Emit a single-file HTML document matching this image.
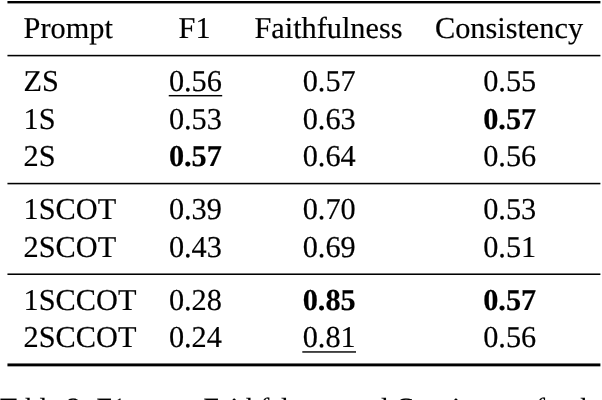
<!DOCTYPE html>
<html><head><meta charset="utf-8"><title>Table 2</title>
<style>
html,body{margin:0;padding:0;background:#fff;}
body{width:602px;height:400px;overflow:hidden;position:relative;font-family:"Liberation Serif",serif;color:#000;text-rendering:geometricPrecision;}
.t{position:absolute;white-space:nowrap;-webkit-text-stroke:0.18px #000;font-size:30.3px;line-height:30.3px;height:30.3px;}
.c{width:200px;text-align:center;}
.b{font-weight:bold;}
.cap{position:absolute;white-space:nowrap;}
#w{position:absolute;left:0;top:0;width:602px;height:400px;overflow:hidden;will-change:transform;filter:grayscale(1);}
svg{position:absolute;left:0;top:0;}
</style></head><body><div id="w">
<svg width="602" height="400" viewBox="0 0 602 400">
<rect x="7.45" y="1.00" width="592.95" height="2.40" fill="#000"/>
<rect x="7.45" y="54.82" width="592.95" height="1.55" fill="#000"/>
<rect x="7.45" y="182.80" width="592.95" height="1.55" fill="#000"/>
<rect x="7.45" y="273.45" width="592.95" height="1.55" fill="#000"/>
<rect x="7.45" y="363.45" width="592.95" height="2.90" fill="#000"/>
<rect x="168.75" y="94.97" width="53.45" height="1.43" fill="#000"/>
<rect x="302.30" y="351.15" width="53.70" height="1.60" fill="#1e1e1e"/>
</svg>
<div class="t" style="left:23.60px;top:13.00px">Prompt</div>
<div class="t c" style="left:94.60px;top:13.00px">F1</div>
<div class="t c" style="left:228.50px;top:13.00px">Faithfulness</div>
<div class="t c" style="left:409.00px;top:13.00px">Consistency</div>
<div class="t" style="left:23.60px;top:66.00px">ZS</div>
<div class="t c" style="left:95.40px;top:66.00px">0.56</div>
<div class="t c" style="left:229.20px;top:66.00px">0.57</div>
<div class="t c" style="left:409.70px;top:66.00px">0.55</div>
<div class="t" style="left:23.60px;top:104.00px">1S</div>
<div class="t c" style="left:95.40px;top:104.00px">0.53</div>
<div class="t c" style="left:229.20px;top:104.00px">0.63</div>
<div class="t b c" style="left:409.70px;top:104.00px">0.57</div>
<div class="t" style="left:23.60px;top:141.00px">2S</div>
<div class="t b c" style="left:95.40px;top:141.00px">0.57</div>
<div class="t c" style="left:229.20px;top:141.00px">0.64</div>
<div class="t c" style="left:409.70px;top:141.00px">0.56</div>
<div class="t" style="left:23.60px;top:194.00px">1SCOT</div>
<div class="t c" style="left:95.40px;top:194.00px">0.39</div>
<div class="t c" style="left:229.20px;top:194.00px">0.70</div>
<div class="t c" style="left:409.70px;top:194.00px">0.53</div>
<div class="t" style="left:23.60px;top:232.00px">2SCOT</div>
<div class="t c" style="left:95.40px;top:232.00px">0.43</div>
<div class="t c" style="left:229.20px;top:232.00px">0.69</div>
<div class="t c" style="left:409.70px;top:232.00px">0.51</div>
<div class="t" style="left:23.60px;top:285.00px">1SCCOT</div>
<div class="t c" style="left:95.40px;top:285.00px">0.28</div>
<div class="t b c" style="left:229.20px;top:285.00px">0.85</div>
<div class="t b c" style="left:409.70px;top:285.00px">0.57</div>
<div class="t" style="left:23.60px;top:322.00px">2SCCOT</div>
<div class="t c" style="left:95.40px;top:322.00px">0.24</div>
<div class="t c" style="left:229.20px;top:322.00px">0.81</div>
<div class="t c" style="left:409.70px;top:322.00px">0.56</div>
<div class="cap" style="left:0.00px;top:395.00px;font-size:27.78px;line-height:27.78px;-webkit-text-stroke:0.18px #000">T<span style="margin-left:-3.8px">able</span></div>
<div class="cap" style="left:67.00px;top:395.00px;font-size:27.78px;line-height:27.78px;-webkit-text-stroke:0.18px #000">2:</div>
<div class="cap" style="left:96.50px;top:395.00px;font-size:27.78px;line-height:27.78px;-webkit-text-stroke:0.18px #000">F1</div>
<div class="cap" style="left:133.00px;top:395.00px;font-size:27.78px;line-height:27.78px;-webkit-text-stroke:0.18px #000">score,</div>
<div class="cap" style="left:203.40px;top:395.00px;font-size:27.78px;line-height:27.78px;-webkit-text-stroke:0.18px #000">Fa<span style="margin-left:-0.6px">ithfu</span><span style="margin-left:-2px">lness</span></div>
<div class="cap" style="left:347.70px;top:395.00px;font-size:27.78px;line-height:27.78px;-webkit-text-stroke:0.18px #000">and</div>
<div class="cap" style="left:395.20px;top:395.00px;font-size:27.78px;line-height:27.78px;-webkit-text-stroke:0.18px #000">Consistency</div>
<div class="cap" style="left:535.80px;top:395.00px;font-size:27.78px;line-height:27.78px;-webkit-text-stroke:0.18px #000">for</div>
<div class="cap" style="left:572.80px;top:395.00px;font-size:27.78px;line-height:27.78px;-webkit-text-stroke:0.18px #000">the</div>
</div></body></html>
